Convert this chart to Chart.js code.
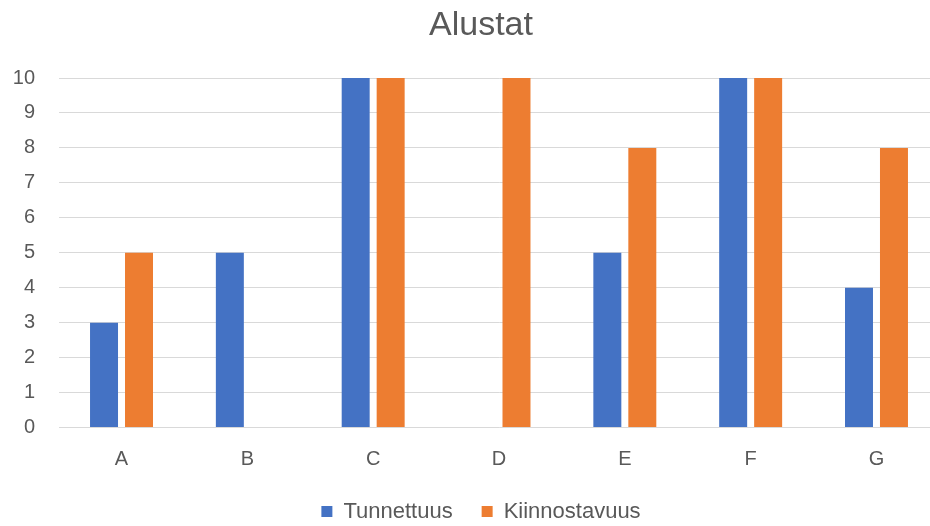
<!DOCTYPE html>
<html>
<head>
<meta charset="utf-8">
<script src="https://cdn.jsdelivr.net/npm/chart.js@4/dist/chart.umd.min.js"></script>
<style>
  html, body { margin: 0; padding: 0; background: #ffffff; overflow: hidden; }
  #wrap { width: 962px; height: 526px; }
</style>
</head>
<body>
<div id="wrap"><canvas id="c" width="962" height="526"></canvas></div>
<script>
// Categories and series values
const categories = ['A', 'B', 'C', 'D', 'E', 'F', 'G'];
const tunnettuus = [3, 5, 10, 0, 5, 10, 4];
const kiinnostavuus = [5, 0, 10, 10, 8, 10, 8];
const seriesNames = ['Tunnettuus', 'Kiinnostavuus'];
const titleText = 'Alustat';

const textColor = '#595959';
const gridColor = '#d9d9d9';
const fontFamily = '"Liberation Sans", Arial, sans-serif';

// Fixed legend block height, so the plot area ends where it should
const legendHeightPlugin = {
  id: 'legendHeight',
  beforeInit(chart) {
    const legend = chart.legend;
    if (!legend) return;
    const fit = legend.fit;
    legend.fit = function () {
      fit.call(this);
      this.height = 54.5;
    };
  }
};

new Chart(document.getElementById('c'), {
  type: 'bar',
  data: {
    labels: categories,
    datasets: [
      {
        label: seriesNames[0],
        data: tunnettuus,
        backgroundColor: '#4472C4',
        borderWidth: 0,
        barPercentage: 0.8,
        categoryPercentage: 0.556
      },
      {
        label: seriesNames[1],
        data: kiinnostavuus,
        backgroundColor: '#ED7D31',
        borderWidth: 0,
        barPercentage: 0.8,
        categoryPercentage: 0.556
      }
    ]
  },
  options: {
    responsive: false,
    animation: false,
    devicePixelRatio: 1,
    layout: { padding: 0 },
    plugins: {
      title: {
        display: true,
        text: titleText,
        color: textColor,
        font: { family: fontFamily, size: 34, weight: 'normal', lineHeight: 1.2 },
        padding: { top: 5, bottom: 32.2 }
      },
      legend: {
        position: 'bottom',
        labels: {
          color: textColor,
          font: { family: fontFamily, size: 22 },
          boxWidth: 11,
          boxHeight: 11,
          padding: 29
        }
      },
      tooltip: { enabled: false }
    },
    scales: {
      x: {
        grid: { display: false, drawTicks: false },
        border: { display: false },
        ticks: { color: textColor, font: { family: fontFamily, size: 20 }, padding: 20 },
        afterFit(scale) { scale.height = 44; }
      },
      y: {
        min: 0,
        max: 10,
        ticks: { stepSize: 1, color: textColor, font: { family: fontFamily, size: 20 }, padding: 23.5 },
        grid: { color: gridColor, lineWidth: 1, drawTicks: false },
        border: { display: false },
        afterFit(scale) { scale.width = 58.6; }
      },
      // empty right-hand margin of the plot area
      yRight: {
        position: 'right',
        min: 0,
        max: 10,
        grid: { display: false, drawTicks: false },
        border: { display: false },
        ticks: { display: false },
        afterFit(scale) { scale.width = 22.6; }
      }
    }
  },
  plugins: [legendHeightPlugin]
});
</script>
</body>
</html>
